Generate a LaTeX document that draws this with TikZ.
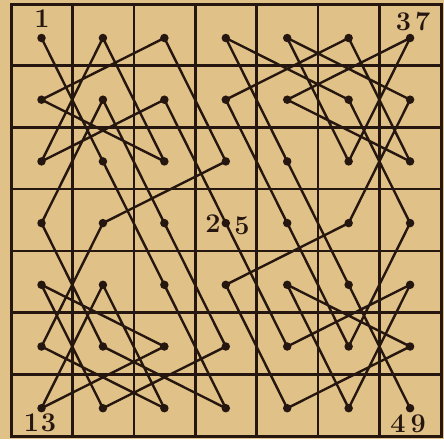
\documentclass[tikz,border=0pt]{standalone}
\usepackage{xcolor}
\definecolor{paper}{RGB}{224,193,136}
\definecolor{ink}{RGB}{38,22,16}
\begin{document}
\begin{tikzpicture}[x=1pt,y=-1pt,
  gridline/.style={draw=ink,line width=2.5pt},
  border/.style={draw=ink,line width=3pt},
  tour/.style={draw=ink,line width=2.4pt,line join=round,line cap=round},
  dot/.style={circle,fill=ink,inner sep=0pt,minimum size=8.5pt},
  num/.style={text=ink,font=\fontsize{27}{27}\selectfont\bfseries,inner sep=0pt}]
\useasboundingbox (0,0) rectangle (444,439);
\fill[paper] (0,0) rectangle (444,439);
% grid
\foreach \i in {1,...,6} {
  \draw[gridline] ({11+61.43*\i},4) -- ({11+61.43*\i},436);
  \draw[gridline] (11,{4+61.71*\i}) -- (441,{4+61.71*\i});
}
\draw[border] (11,4) rectangle (441,436);
% dots
\foreach \c in {0,...,6} {
  \foreach \r in {0,...,6} {
    \node[dot] (d\c\r) at ({41.5+61.43*\c},{38+61.7*\r}) {};
  }
}
% tour
\draw[tour] (d00.center) foreach \p in {12,24,36,15,03,11,23,35,16,04,25,06,14,26,05,13,32,20,01,22,10,02,21,33,45,64,56,44,65,46,34,53,61,40,52,60,41,62,50,31,43,55,63,51,30,42,54,66} { -- (d\p.center) };
% labels
\node[num] (n1) at (42,19) {1};
\node[num] (n37) at (413,22) {3\hspace{4pt}7};
\node[num] (n13) at (40,423) {1\hspace{2pt}3};
\node[num] (n49) at (408,424) {4\hspace{5pt}9};
\node[num] (n2) at (213,224) {2};
\node[num] (n5) at (242,226) {5};
\end{tikzpicture}
\end{document}
